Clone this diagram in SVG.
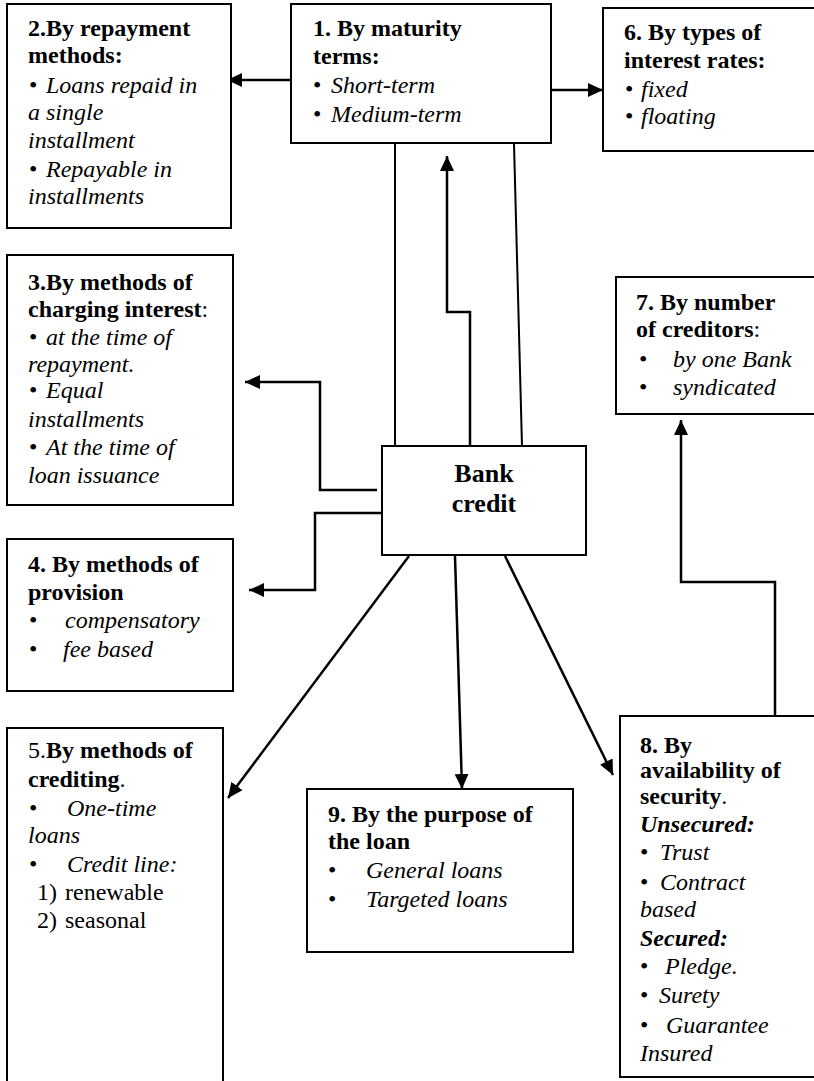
<svg xmlns="http://www.w3.org/2000/svg" width="814" height="1081" viewBox="0 0 814 1081">
<style>
text{font-family:'Liberation Serif','Times New Roman',serif;font-size:24px;fill:#000}
.b{font-weight:bold}
.i{font-style:italic}
.bi{font-weight:bold;font-style:italic}
.bank{font-weight:bold;font-size:26px}
.box{fill:#fff;stroke:#000;stroke-width:2}
.ln{fill:none;stroke:#000;stroke-width:2.5}
.thin{fill:none;stroke:#000;stroke-width:2}
</style>
<defs>
<marker id="ah" markerUnits="userSpaceOnUse" markerWidth="16" markerHeight="14" refX="15" refY="7" orient="auto">
<path d="M0,0 L15,7 L0,14 z" fill="#000"/>
</marker>
</defs>
<rect width="814" height="1081" fill="#fff"/>
<g id="connectors">
<path class="ln" d="M291,80 L227,80" marker-end="url(#ah)"/>
<path class="ln" d="M552,90 L603,90" marker-end="url(#ah)"/>
<path class="ln" d="M470,446 L470,312 L447,312 L447,156" marker-end="url(#ah)"/>
<path class="thin" d="M395,144 L395,446"/>
<path class="thin" d="M514,144 L522,446"/>
<path class="ln" d="M377,490 L320,490 L320,382 L245,382" marker-end="url(#ah)"/>
<path class="ln" d="M382,513 L315,513 L315,590 L249,590" marker-end="url(#ah)"/>
<path class="ln" d="M409,556 L228,798" marker-end="url(#ah)"/>
<path class="ln" d="M455,556 L462,789" marker-end="url(#ah)"/>
<path class="ln" d="M505,556 L613,775" marker-end="url(#ah)"/>
<path class="ln" d="M775,716 L775,582 L681,582 L681,420" marker-end="url(#ah)"/>
</g>
<g id="box1">
<rect class="box" x="291" y="4" width="260" height="139"/>
<text class="b" x="313" y="36">1. By maturity</text>
<text class="b" x="313" y="64">terms:</text>
<text x="313" y="93">•</text><text class="i" x="331" y="93">Short-term</text>
<text x="313" y="122">•</text><text class="i" x="331" y="122">Medium-term</text>
</g>
<g id="box2">
<rect class="box" x="7" y="4" width="224" height="224"/>
<text class="b" x="28" y="36">2.By repayment</text>
<text class="b" x="28" y="63">methods:</text>
<text x="29" y="93">•</text><text class="i" x="46" y="93">Loans repaid in</text>
<text class="i" x="28" y="120">a single</text>
<text class="i" x="28" y="148">installment</text>
<text x="29" y="177">•</text><text class="i" x="46" y="177">Repayable in</text>
<text class="i" x="28" y="204">installments</text>
</g>
<g id="box6">
<rect class="box" x="603" y="8" width="230" height="143"/>
<text class="b" x="624" y="40">6. By types of</text>
<text class="b" x="624" y="68">interest rates:</text>
<text x="625" y="97">•</text><text class="i" x="641" y="97">fixed</text>
<text x="625" y="124">•</text><text class="i" x="641" y="124">floating</text>
</g>
<g id="box3">
<rect class="box" x="7" y="255" width="226" height="250"/>
<text class="b" x="28" y="290">3.By methods of</text>
<text x="28" y="317"><tspan class="b">charging interest</tspan>:</text>
<text x="29" y="345">•</text><text class="i" x="46" y="345">at the time of</text>
<text class="i" x="28" y="372">repayment.</text>
<text x="29" y="398">•</text><text class="i" x="46" y="398">Equal</text>
<text class="i" x="28" y="427">installments</text>
<text x="29" y="455">•</text><text class="i" x="46" y="455">At the time of</text>
<text class="i" x="28" y="483">loan issuance</text>
</g>
<g id="box7">
<rect class="box" x="616" y="277" width="220" height="137"/>
<text class="b" x="636" y="310">7. By number</text>
<text x="636" y="337"><tspan class="b">of creditors</tspan>:</text>
<text x="639" y="367">•</text><text class="i" x="673" y="367">by one Bank</text>
<text x="639" y="395">•</text><text class="i" x="673" y="395">syndicated</text>
</g>
<g id="bank">
<rect class="box" x="382" y="446" width="204" height="109"/>
<text class="bank" x="484" y="482" text-anchor="middle">Bank</text>
<text class="bank" x="484" y="512" text-anchor="middle">credit</text>
</g>
<g id="box4">
<rect class="box" x="7" y="539" width="226" height="152"/>
<text class="b" x="28" y="572">4. By methods of</text>
<text class="b" x="28" y="600">provision</text>
<text x="29" y="628">•</text><text class="i" x="65" y="628">compensatory</text>
<text x="29" y="657">•</text><text class="i" x="63" y="657">fee based</text>
</g>
<g id="box5">
<rect class="box" x="7" y="728" width="216" height="380"/>
<text x="28" y="758">5.<tspan class="b">By methods of</tspan></text>
<text x="28" y="787"><tspan class="b">crediting</tspan>.</text>
<text x="29" y="816">•</text><text class="i" x="67" y="816">One-time</text>
<text class="i" x="28" y="843">loans</text>
<text x="29" y="872">•</text><text class="i" x="67" y="872">Credit line:</text>
<text x="37" y="900">1)</text><text x="65" y="900">renewable</text>
<text x="37" y="928">2)</text><text x="65" y="928">seasonal</text>
</g>
<g id="box9">
<rect class="box" x="307" y="789" width="266" height="163"/>
<text class="b" x="328" y="822">9. By the purpose of</text>
<text class="b" x="328" y="849">the loan</text>
<text x="328" y="878">•</text><text class="i" x="366" y="878">General loans</text>
<text x="328" y="907">•</text><text class="i" x="366" y="907">Targeted loans</text>
</g>
<g id="box8">
<rect class="box" x="620" y="716" width="220" height="361"/>
<text class="b" x="640" y="753">8. By</text>
<text class="b" x="640" y="778">availability of</text>
<text x="640" y="804"><tspan class="b">security</tspan>.</text>
<text class="bi" x="640" y="832">Unsecured:</text>
<text x="640" y="860">•</text><text class="i" x="660" y="860">Trust</text>
<text x="640" y="890">•</text><text class="i" x="660" y="890">Contract</text>
<text class="i" x="640" y="917">based</text>
<text class="bi" x="640" y="946">Secured:</text>
<text x="640" y="974">•</text><text class="i" x="665" y="974">Pledge.</text>
<text x="640" y="1003">•</text><text class="i" x="659" y="1003">Surety</text>
<text x="640" y="1033">•</text><text class="i" x="666" y="1033">Guarantee</text>
<text class="i" x="640" y="1061">Insured</text>
</g>
</svg>
